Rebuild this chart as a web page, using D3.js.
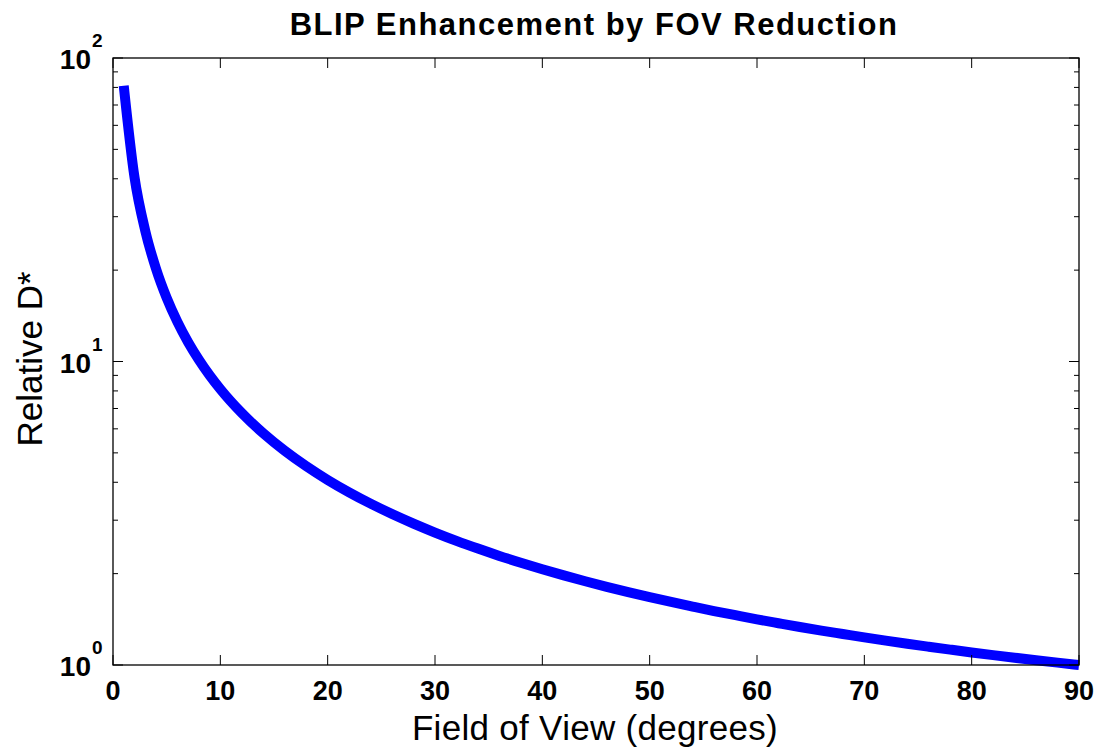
<!DOCTYPE html>
<html><head><meta charset="utf-8">
<script src="https://cdn.jsdelivr.net/npm/d3@7"></script>
<style>body{margin:0;background:#fff}svg{display:block}</style>
</head><body>
<svg id="c" width="1099" height="748"></svg>
<script>
const fov = [1,2,3,4,5,6,7,8,9,10,12,14,16,18,20,22,24,26,28,30,32,34,36,38,40,42,44,46,48,50,52,54,56,58,60,62,64,66,68,70,72,74,76,78,80,82,84,86,88,90];
const relD = [81.03,40.52,27.01,20.26,16.21,13.51,11.58,10.14,9.012,8.113,6.765,5.802,5.081,4.520,4.072,3.706,3.401,3.143,2.923,2.732,2.565,2.419,2.288,2.172,2.067,1.973,1.888,1.810,1.738,1.673,1.613,1.558,1.506,1.459,1.414,1.373,1.334,1.298,1.265,1.233,1.203,1.175,1.149,1.124,1.100,1.078,1.057,1.037,1.018,1.000];
const xTicks = [0,10,20,30,40,50,60,70,80,90];
const yMajor = [1,10,100];
const yExp = ["0","1","2"];
const yMinor = [2,3,4,5,6,7,8,9,20,30,40,50,60,70,80,90];

const svg = d3.select("#c");
const L=113, R=1079, T=58, B=665;
const x = d3.scaleLinear().domain([0,90]).range([L,R]);
const y = d3.scaleLog().domain([1,100]).range([B,T]);
const font = "'Liberation Sans', Arial, Helvetica, sans-serif";

// curve
const line = d3.line().x((d,i)=>x(fov[i])).y(d=>y(d)).curve(d3.curveMonotoneX);
svg.append("path").datum(relD).attr("d",line).attr("fill","none")
  .attr("stroke","#0000ff").attr("stroke-width",10).attr("stroke-linejoin","round");

// frame
svg.append("rect").attr("x",L).attr("y",T).attr("width",R-L).attr("height",B-T)
  .attr("fill","none").attr("stroke","#000").attr("stroke-width",1.3);

const g = svg.append("g").attr("stroke","#000").attr("stroke-width",1);
xTicks.forEach(v=>{
  g.append("line").attr("x1",x(v)).attr("x2",x(v)).attr("y1",B).attr("y2",B-10);
  g.append("line").attr("x1",x(v)).attr("x2",x(v)).attr("y1",T).attr("y2",T+10);
});
yMajor.forEach(v=>{
  g.append("line").attr("x1",L).attr("x2",L+10).attr("y1",y(v)).attr("y2",y(v));
  g.append("line").attr("x1",R).attr("x2",R-10).attr("y1",y(v)).attr("y2",y(v));
});
yMinor.forEach(v=>{
  g.append("line").attr("x1",L).attr("x2",L+5).attr("y1",y(v)).attr("y2",y(v));
  g.append("line").attr("x1",R).attr("x2",R-5).attr("y1",y(v)).attr("y2",y(v));
});

// x tick labels
svg.append("g").selectAll("text").data(xTicks).join("text")
  .attr("x",d=>x(d)).attr("y",B+35).attr("text-anchor","middle")
  .attr("font-family",font).attr("font-weight","bold").attr("font-size",27).text(d=>d);

// y tick labels
yMajor.forEach((v,i)=>{
  svg.append("text").attr("x",91).attr("y",y(v)+11).attr("text-anchor","end")
    .attr("font-family",font).attr("font-weight","bold").attr("font-size",28).text("10");
  svg.append("text").attr("x",92).attr("y",y(v)-11).attr("text-anchor","start")
    .attr("font-family",font).attr("font-weight","bold").attr("font-size",19).text(yExp[i]);
});

// title
svg.append("text").attr("x",594).attr("y",35).attr("text-anchor","middle")
  .attr("font-family",font).attr("font-weight","bold").attr("font-size",31)
  .attr("letter-spacing",1.5)
  .text("BLIP Enhancement by FOV Reduction");

// axis labels
svg.append("text").attr("x",595).attr("y",740).attr("text-anchor","middle")
  .attr("font-family",font).attr("font-size",35).attr("letter-spacing",0.3).text("Field of View (degrees)");
svg.append("text").attr("transform",`translate(42,359) rotate(-90)`).attr("text-anchor","middle")
  .attr("font-family",font).attr("font-size",35).text("Relative D*");
</script>
</body></html>
